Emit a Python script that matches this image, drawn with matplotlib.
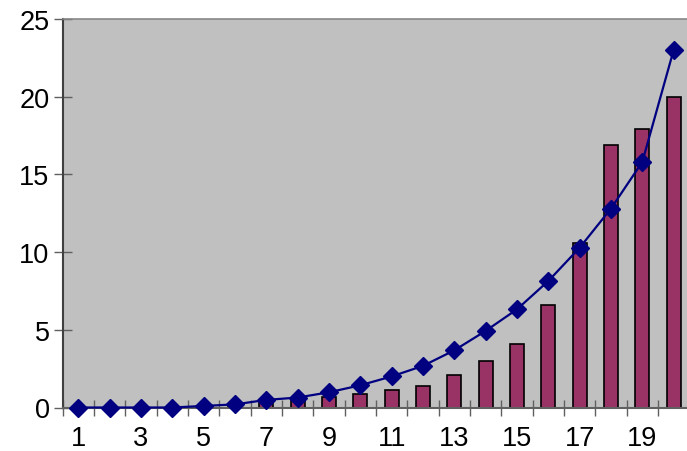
import matplotlib
matplotlib.use("Agg")
import matplotlib.pyplot as plt
from matplotlib.ticker import FixedLocator

categories = list(range(1, 21))
bar_values = [0, 0, 0, 0, 0.05, 0.1, 0.38, 0.53, 0.7, 0.85,
              1.1, 1.4, 2.1, 3.0, 4.1, 6.6, 10.6, 16.9, 17.95, 20.0]
line_values = [0, 0, 0, 0, 0.1, 0.2, 0.49, 0.64, 0.98, 1.43,
               2.0, 2.68, 3.68, 4.93, 6.32, 8.14, 10.28, 12.8, 15.8, 23.0]
x_tick_labels = [str(c) for c in categories if c % 2 == 1]
y_ticks = [0, 5, 10, 15, 20, 25]

plt.rcParams['font.family'] = ['Liberation Sans', 'DejaVu Sans']

W, H = 687, 452
fig = plt.figure(figsize=(W / 100, H / 100), dpi=100)
left, right, top, bottom = 62.7, 689.3, 20, 408.5
ax = fig.add_axes([left / W, 1 - bottom / H, (right - left) / W, (bottom - top) / H])
ax.set_facecolor('#C0C0C0')

ax.bar(categories, bar_values, width=0.45, color='#993366',
       edgecolor='black', linewidth=1.2, zorder=2)
ax.plot(categories, line_values, color='#000080', linewidth=1.6,
        marker='D', markersize=9, markerfacecolor='#000080',
        markeredgecolor='#000080', zorder=3, clip_on=False)

ax.set_xlim(0.5, 20.5)
ax.set_ylim(0, 25)

odd = [c for c in categories if c % 2 == 1]
ax.xaxis.set_major_locator(FixedLocator(odd))
ax.set_xticklabels(x_tick_labels)
ax.xaxis.set_minor_locator(FixedLocator([c + 0.5 for c in range(0, 21)]))
ax.tick_params(axis='x', which='major', length=0, pad=12.5, labelsize=19.5)
ax.tick_params(axis='x', which='minor', direction='inout', length=12,
               width=1.0, color='#606060')
ax.set_yticks(y_ticks)
ax.tick_params(axis='y', which='major', direction='inout', length=13,
               width=1.0, color='#606060', pad=3, labelsize=19.5)

ax.spines['right'].set_visible(False)
ax.spines['top'].set_color('#888888')
ax.spines['top'].set_linewidth(1.2)
ax.spines['left'].set_color('#404040')
ax.spines['left'].set_linewidth(1.5)
ax.spines['bottom'].set_color('#606060')
ax.spines['bottom'].set_linewidth(1.5)

fig.savefig('out.png', dpi=100)
